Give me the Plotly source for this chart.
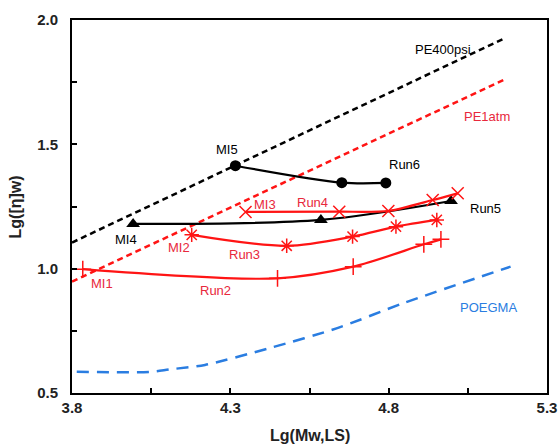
import plotly.graph_objects as go

# Reference lines
pe400_x = [3.80, 5.17]
pe400_y = [1.105, 1.929]
pe1atm_x = [3.80, 5.17]
pe1atm_y = [0.948, 1.763]
poegma_x = [3.815, 4.046, 4.109, 4.22, 4.425, 4.64, 4.846, 5.185]
poegma_y = [0.585, 0.585, 0.595, 0.613, 0.681, 0.762, 0.861, 1.008]

# Experimental runs
run6_x = [4.316, 4.652, 4.791]
run6_y = [1.414, 1.346, 1.345]
run5_x = [3.993, 4.586, 4.997]
run5_y = [1.180, 1.196, 1.272]
run4_x = [4.348, 4.644, 4.799, 4.939, 5.018]
run4_y = [1.228, 1.229, 1.232, 1.276, 1.303]
run3_x = [4.178, 4.478, 4.686, 4.823, 4.952]
run3_y = [1.136, 1.092, 1.129, 1.169, 1.196]
run2_x = [3.834, 4.449, 4.688, 4.911, 4.965]
run2_y = [0.998, 0.961, 1.008, 1.098, 1.118]

x_ticks = [3.8, 4.05, 4.3, 4.55, 4.8, 5.05, 5.3]
x_ticktext = ["3.8", "", "4.3", "", "4.8", "", "5.3"]
y_ticks = [0.5, 0.75, 1.0, 1.25, 1.5, 1.75, 2.0]
y_ticktext = ["0.5", "", "1.0", "", "1.5", "", "2.0"]

RED = "#ff1414"
RED_TXT = "#e8283c"
BLUE = "#2a7de1"
BLACK = "#000000"
FONT = "Liberation Sans, Arial"

fig = go.Figure()

fig.add_trace(go.Scatter(x=pe400_x, y=pe400_y, mode="lines",
                         line=dict(color=BLACK, width=2.5, dash="6px,4px")))
fig.add_trace(go.Scatter(x=pe1atm_x, y=pe1atm_y, mode="lines",
                         line=dict(color=RED, width=2.5, dash="6px,4px")))
fig.add_trace(go.Scatter(x=poegma_x, y=poegma_y, mode="lines",
                         line=dict(color=BLUE, width=2.5, dash="12px,8px",
                                   shape="spline", smoothing=0.8)))

fig.add_trace(go.Scatter(x=run6_x, y=run6_y, mode="lines+markers",
                         line=dict(color=BLACK, width=2.2, shape="spline", smoothing=0.9),
                         marker=dict(symbol="circle", size=11, color=BLACK)))
fig.add_trace(go.Scatter(x=run5_x, y=run5_y, mode="lines+markers",
                         line=dict(color=BLACK, width=2.2, shape="spline", smoothing=0.9),
                         marker=dict(symbol="triangle-up", size=12, color=BLACK)))
fig.add_trace(go.Scatter(x=run4_x, y=run4_y, mode="lines+markers",
                         line=dict(color=RED, width=2.2, shape="spline", smoothing=0.7),
                         marker=dict(symbol="x-thin-open", size=12,
                                     line=dict(color=RED, width=1.5))))
fig.add_trace(go.Scatter(x=run3_x, y=run3_y, mode="lines+markers",
                         line=dict(color=RED, width=2.2, shape="spline", smoothing=0.9),
                         marker=dict(symbol="asterisk-open", size=12,
                                     line=dict(color=RED, width=1.5))))
fig.add_trace(go.Scatter(x=run2_x, y=run2_y, mode="lines+markers",
                         line=dict(color=RED, width=2.2, shape="spline", smoothing=0.9),
                         marker=dict(symbol="cross-thin-open", size=12,
                                     line=dict(color=RED, width=1.5))))

labels = [
    ("PE400psi", 4.97, 1.88, BLACK),
    ("PE1atm", 5.11, 1.61, RED_TXT),
    ("MI5", 4.29, 1.48, BLACK),
    ("Run6", 4.85, 1.42, BLACK),
    ("Run4", 4.56, 1.265, RED_TXT),
    ("MI3", 4.41, 1.26, RED_TXT),
    ("Run5", 5.107, 1.243, BLACK),
    ("MI4", 3.97, 1.118, BLACK),
    ("MI2", 4.137, 1.084, RED_TXT),
    ("Run3", 4.344, 1.058, RED_TXT),
    ("MI1", 3.896, 0.942, RED_TXT),
    ("Run2", 4.252, 0.912, RED_TXT),
    ("POEGMA", 5.114, 0.842, BLUE),
]
for text, lx, ly, col in labels:
    fig.add_annotation(x=lx, y=ly, text=text, showarrow=False,
                       font=dict(family=FONT, size=13, color=col))

# Axis titles placed in paper coordinates
fig.add_annotation(x=0.5, y=-0.115, xref="paper", yref="paper", yanchor="middle",
                   text="Lg(Mw,LS)", showarrow=False,
                   font=dict(family=FONT, size=16, color="#222222", weight="bold"))
fig.add_annotation(x=-0.118, y=0.5, xref="paper", yref="paper", xanchor="center",
                   text="Lg([η]w)", showarrow=False, textangle=-90,
                   font=dict(family=FONT, size=16, color="#222222", weight="bold"))

axis_common = dict(
    showgrid=False, zeroline=False, showline=True, linecolor=BLACK, linewidth=2,
    mirror=True, ticks="inside", ticklen=5, tickwidth=2, tickcolor=BLACK,
    automargin=False,
    tickfont=dict(family=FONT, size=15, color="#222222", weight="bold"),
)

fig.update_layout(
    width=558, height=447,
    margin=dict(l=72, r=11, t=20, b=54),
    paper_bgcolor="white", plot_bgcolor="white",
    showlegend=False,
    xaxis=dict(range=[3.8, 5.3], tickvals=x_ticks, ticktext=x_ticktext,
               **axis_common),
    yaxis=dict(range=[0.5, 2.0], tickvals=y_ticks, ticktext=y_ticktext,
               ticklabelstandoff=9, **axis_common),
)

fig.write_html("out.html")
